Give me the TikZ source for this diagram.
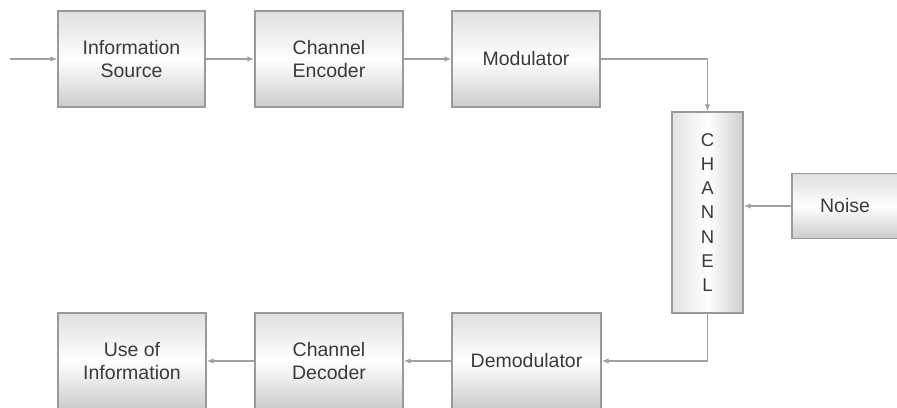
\documentclass[tikz,border=0pt]{standalone}
\usepackage{fontspec}
\setmainfont{Liberation Sans}
\usetikzlibrary{arrows.meta}
\definecolor{boxline}{HTML}{9A9A9A}
\definecolor{conncol}{HTML}{A0A0A0}
\definecolor{txt}{HTML}{3A3A3A}
\tikzset{
  box/.style={draw=boxline, line width=1.3pt, top color=gray!25, bottom color=gray!40, middle color=white,
    align=center, text=txt, font=\fontsize{19.5}{22.5}\selectfont, inner sep=0pt},
  vbox/.style={draw=boxline, line width=1.3pt, left color=gray!22, right color=gray!38, middle color=white,
    align=center, text=txt, font=\fontsize{18.5}{24.3}\selectfont, inner sep=0pt},
  conn/.style={draw=conncol, line width=1.6pt, -{Latex[length=7pt,width=5.5pt]}}
}
\begin{document}
\begin{tikzpicture}[x=1pt,y=-1pt]
\useasboundingbox (0,0) rectangle (897,407);
\fill[white] (0,0) rectangle (897,407);
\node[box, minimum width=147pt, minimum height=96pt] (src) at (131.5,59) {Information\\Source};
\node[box, minimum width=148pt, minimum height=96pt] (enc) at (329,59) {Channel\\Encoder};
\node[box, minimum width=148pt, minimum height=96pt] (mod) at (526,59) {Modulator};
\node[vbox, minimum width=71pt, minimum height=201pt] (chan) at (707.5,212.5) {C\\H\\A\\N\\N\\E\\L};
\node[box, minimum width=106pt, minimum height=65pt] (noise) at (845,206) {Noise};
\node[box, minimum width=148pt, minimum height=96pt] (use) at (132,361) {Use of\\Information};
\node[box, minimum width=148pt, minimum height=96pt] (dec) at (329,361) {Channel\\Decoder};
\node[box, minimum width=149pt, minimum height=96pt] (dem) at (526.5,361) {Demodulator};
\coordinate (in) at (10,59);
\draw[conn] (in) -- (src);
\draw[conn] (src) -- (enc);
\draw[conn] (enc) -- (mod);
\draw[conn] (mod.east) -| (chan.north);
\draw[conn] (noise.west) -- (chan.east |- noise.west);
\draw[conn] (chan.south) |- (dem.east);
\draw[conn] (dem) -- (dec);
\draw[conn] (dec) -- (use);
\end{tikzpicture}
\end{document}
